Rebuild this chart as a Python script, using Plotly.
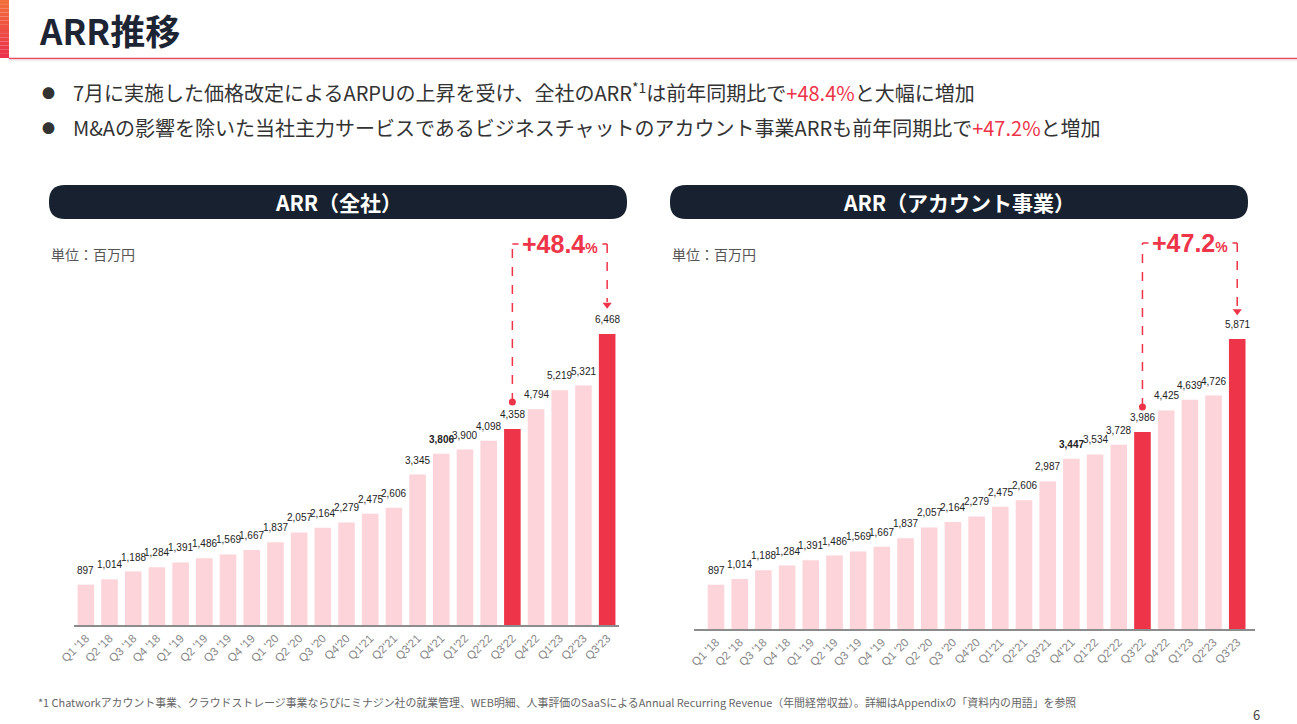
import plotly.graph_objects as go

W, H = 1297, 724

quarters = ["Q1 '18", "Q2 '18", "Q3 '18", "Q4 '18", "Q1 '19", "Q2 '19", "Q3 '19", "Q4 '19",
            "Q1 '20", "Q2 '20", "Q3 '20", "Q4'20", "Q1'21", "Q2'21", "Q3'21", "Q4'21",
            "Q1'22", "Q2'22", "Q3'22", "Q4'22", "Q1'23", "Q2'23", "Q3'23"]
arr_total = [897, 1014, 1188, 1284, 1391, 1486, 1569, 1667, 1837, 2057, 2164, 2279,
             2475, 2606, 3345, 3806, 3900, 4098, 4358, 4794, 5219, 5321, 6468]
arr_account = [897, 1014, 1188, 1284, 1391, 1486, 1569, 1667, 1837, 2057, 2164, 2279,
               2475, 2606, 2987, 3447, 3534, 3728, 3986, 4425, 4639, 4726, 5871]
highlight = ["Q3'22", "Q3'23"]
bold_quarter = "Q4'21"
growth_total = "+48.4"
growth_account = "+47.2"

PINK = "#FCD4D9"
RED = "#EE3448"
NAVY = "#18212F"
TXT = "#333333"
JP = "Noto Sans CJK JP"
NUM = "Liberation Sans, Arial, sans-serif"


def X(x):
    return x / W


def Y(y):
    return 1 - y / H


fig = go.Figure()

shapes = []
annotations = []


def paper_text(x, y, text, size, color, xanchor="left", family=JP):
    annotations.append(dict(x=X(x), y=Y(y), xref="paper", yref="paper", text=text,
                            xanchor=xanchor, yanchor="middle", showarrow=False,
                            font=dict(family=family, size=size, color=color)))


charts = [
    dict(vals=arr_total, xa="x", ya="y", growth=growth_total,
         dot_off=600, top_off=2000, tip_off=560),
    dict(vals=arr_account, xa="x2", ya="y2", growth=growth_account,
         dot_off=510, top_off=1945, tip_off=470),
]

for c in charts:
    vals = c["vals"]
    colors = [RED if q in highlight else PINK for q in quarters]
    fig.add_trace(go.Bar(x=quarters, y=vals, marker=dict(color=colors, line=dict(width=0)),
                         width=0.7, xaxis=c["xa"], yaxis=c["ya"], hoverinfo="x+y"))
    for q, v in zip(quarters, vals):
        t = f"{v:,}"
        if q == bold_quarter:
            t = f"<b>{t}</b>"
        annotations.append(dict(x=q, y=v, xref=c["xa"], yref=c["ya"], text=t,
                                showarrow=False, xanchor="center", yanchor="bottom", yshift=7,
                                font=dict(family=NUM, size=10, color="#222")))
    i0 = quarters.index(highlight[0])
    i1 = quarters.index(highlight[1])
    v0, v1 = vals[i0], vals[i1]
    dot_y = v0 + c["dot_off"]
    top_y = v1 + c["top_off"]
    tip_y = v1 + c["tip_off"]
    dash = dict(color=RED, width=1.5, dash="dash")
    shapes.append(dict(type="line", xref=c["xa"], yref=c["ya"], x0=highlight[0], x1=highlight[0],
                       y0=dot_y, y1=top_y, line=dash))
    shapes.append(dict(type="line", xref=c["xa"], yref=c["ya"], x0=highlight[0], x1=highlight[1],
                       y0=top_y, y1=top_y, line=dash))
    shapes.append(dict(type="line", xref=c["xa"], yref=c["ya"], x0=highlight[1], x1=highlight[1],
                       y0=top_y, y1=tip_y + 150, line=dash))
    fig.add_trace(go.Scatter(x=[highlight[0]], y=[dot_y], mode="markers",
                             marker=dict(color=RED, size=7, symbol="circle"),
                             xaxis=c["xa"], yaxis=c["ya"], hoverinfo="skip"))
    fig.add_trace(go.Scatter(x=[highlight[1]], y=[tip_y + 90], mode="markers",
                             marker=dict(color=RED, size=8, symbol="triangle-down"),
                             xaxis=c["xa"], yaxis=c["ya"], hoverinfo="skip"))
    mid = quarters[(i0 + i1) // 2]
    annotations.append(dict(x=mid, y=top_y, xref=c["xa"], yref=c["ya"],
                            text=f"<b>{c['growth']}</b><b><span style='font-size:14px'>%</span></b>",
                            showarrow=False, bgcolor="white", borderpad=3,
                            xanchor="center", yanchor="middle",
                            font=dict(family=NUM, size=25, color=RED)))

# header: gradient side bar
n = 14
c_top = (242, 110, 58)
c_bot = (236, 50, 76)
for k in range(n):
    f = k / (n - 1)
    col = tuple(int(c_top[j] + (c_bot[j] - c_top[j]) * f) for j in range(3))
    shapes.append(dict(type="rect", xref="paper", yref="paper",
                       x0=X(0), x1=X(9), y0=Y(58 * k / n), y1=Y(58 * (k + 1) / n),
                       fillcolor=f"rgb{col}", line=dict(width=0), layer="above"))
shapes.append(dict(type="line", xref="paper", yref="paper", x0=X(9), x1=1, y0=Y(58.5), y1=Y(58.5),
                   line=dict(color="#E8475C", width=1.5)))
shapes.append(dict(type="line", xref="paper", yref="paper", x0=X(9), x1=1, y0=Y(60.5), y1=Y(60.5),
                   line=dict(color="#EEEEEE", width=1.5)))


def pill(x0, y0, x1, y1, r):
    return (f"M {X(x0 + r)},{Y(y0)} L {X(x1 - r)},{Y(y0)} Q {X(x1)},{Y(y0)} {X(x1)},{Y(y0 + r)} "
            f"L {X(x1)},{Y(y1 - r)} Q {X(x1)},{Y(y1)} {X(x1 - r)},{Y(y1)} "
            f"L {X(x0 + r)},{Y(y1)} Q {X(x0)},{Y(y1)} {X(x0)},{Y(y1 - r)} "
            f"L {X(x0)},{Y(y0 + r)} Q {X(x0)},{Y(y0)} {X(x0 + r)},{Y(y0)} Z")


for (x0, x1, label) in [(49, 627, "ARR（全社）"), (670, 1248, "ARR（アカウント事業）")]:
    shapes.append(dict(type="path", xref="paper", yref="paper", path=pill(x0, 185, x1, 219, 16),
                       fillcolor=NAVY, line=dict(width=0)))
    paper_text((x0 + x1) / 2, 202, f"<b>{label}</b>", 21, "white", xanchor="center")
    paper_text(x0, 254, "単位：百万円", 14, "#555")

# title
paper_text(37, 30, "<b>ARR推移</b>", 35, "#1D2433")

# bullets
bullets = [
    f"7月に実施した価格改定によるARPUの上昇を受け、全社のARR<sup>*1</sup>は前年同期比で<span style='color:{RED}'>+48.4%</span>と大幅に増加",
    f"M&amp;Aの影響を除いた当社主力サービスであるビジネスチャットのアカウント事業ARRも前年同期比で<span style='color:{RED}'>+47.2%</span>と増加",
]
for yb, t in zip([92, 127], bullets):
    paper_text(40, yb, "●", 13, TXT)
    paper_text(71, yb, t, 20, TXT)

paper_text(36, 702, "*1 Chatworkアカウント事業、クラウドストレージ事業ならびにミナジン社の就業管理、WEB明細、人事評価のSaaSによるAnnual Recurring Revenue（年間経常収益）。詳細はAppendixの「資料内の用語」を参照",
           10.9, "#666")
paper_text(1256, 714, "6", 13, "#444", xanchor="center")

xcommon = dict(type="category", showgrid=False, zeroline=False, showline=True, linecolor="#8C8C8C",
               linewidth=2, tickangle=-45, ticks="", tickfont=dict(family=NUM, size=11.5, color="#888"),
               fixedrange=True, automargin=False)
ycommon = dict(showgrid=False, zeroline=False, showline=False, showticklabels=False, fixedrange=True,
               automargin=False)

fig.update_layout(
    width=W, height=H, margin=dict(l=0, r=0, t=0, b=0, pad=0, autoexpand=False),
    paper_bgcolor="white", plot_bgcolor="white", showlegend=False,
    xaxis=dict(xcommon, domain=[X(74), X(619)], range=[-0.5, 22.5], anchor="y"),
    yaxis=dict(ycommon, domain=[Y(625), Y(230)], range=[0, 8780], anchor="x"),
    xaxis2=dict(xcommon, domain=[X(693.5), X(1255)], range=[-0.95, 22.75], anchor="y2"),
    yaxis2=dict(ycommon, domain=[Y(629), Y(230)], range=[0, 8077], anchor="x2"),
    shapes=shapes, annotations=annotations, bargap=0.3,
)

fig.write_html("out.html")
